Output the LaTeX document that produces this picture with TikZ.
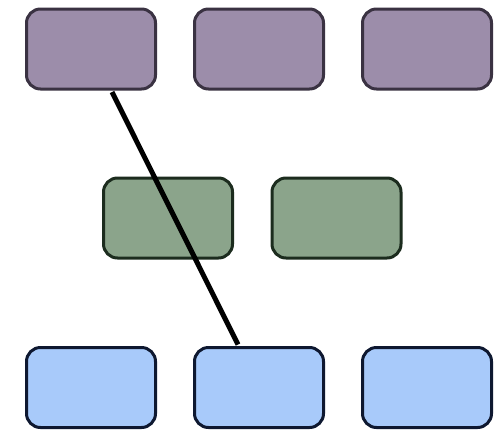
\documentclass[tikz,border=0pt]{standalone}
\begin{document}
\begin{tikzpicture}[x=1pt,y=-1pt,
  box/.style={draw, line width=3pt, rounded corners=14pt, minimum width=129pt, minimum height=80pt, inner sep=0pt},
  topbox/.style={box, fill={rgb,255:red,156;green,141;blue,170}, draw={rgb,255:red,58;green,50;blue,66}},
  midbox/.style={box, fill={rgb,255:red,139;green,164;blue,139}, draw={rgb,255:red,28;green,44;blue,30}},
  lowbox/.style={box, fill={rgb,255:red,168;green,202;blue,250}, draw={rgb,255:red,14;green,24;blue,48}},
  link/.style={line width=5pt, draw=black}]
\useasboundingbox[fill=white] (0,0) rectangle (500,431);
% top row
\node[topbox] (t1) at (91,49) {};
\node[topbox] (t2) at (259,49) {};
\node[topbox] (t3) at (427,49) {};
% middle row
\node[midbox] (m1) at (168,218) {};
\node[midbox] (m2) at (336.5,218) {};
% bottom row
\node[lowbox] (b1) at (91,387.5) {};
\node[lowbox] (b2) at (259,387.5) {};
\node[lowbox] (b3) at (427,387.5) {};
% connector
\draw[link] ([xshift=21pt,yshift=-1.5pt]t1.south) -- ([xshift=-21pt,yshift=1.5pt]b2.north);
\end{tikzpicture}
\end{document}
